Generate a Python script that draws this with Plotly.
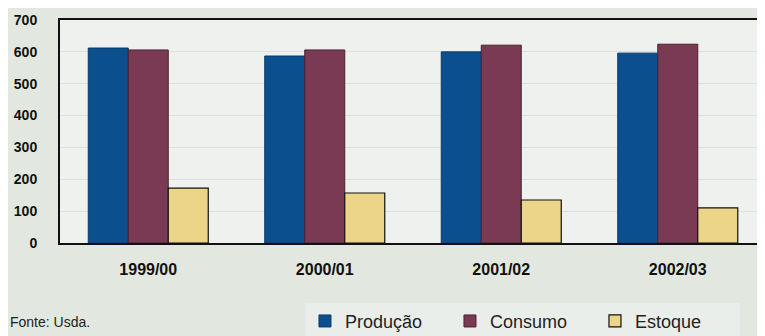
import plotly.graph_objects as go

categories = ["1999/00", "2000/01", "2001/02", "2002/03"]
producao = [612, 587, 600, 596]
consumo = [606, 606, 621, 624]
estoque = [172, 157, 135, 110]
y_ticks = [0, 100, 200, 300, 400, 500, 600, 700]

fig = go.Figure()
fig.add_bar(x=categories, y=producao, name="Produção",
            marker=dict(color="#0b4f8e", line=dict(color="#0b3a66", width=1)))
fig.add_bar(x=categories, y=consumo, name="Consumo",
            marker=dict(color="#7a3a54", line=dict(color="#4a2030", width=1)))
fig.add_bar(x=categories, y=estoque, name="Estoque",
            marker=dict(color="#ecd488", line=dict(color="#111111", width=1.2)))

fig.update_layout(
    width=765, height=336,
    margin=dict(l=52, r=7, t=12, b=101, autoexpand=False),
    paper_bgcolor="#e2e8e0",
    plot_bgcolor="#eef1ed",
    barmode="group",
    bargap=0.32,
    bargroupgap=0,
    font=dict(family="Arial, Liberation Sans, sans-serif", color="#111111"),
    showlegend=True,
    legend=dict(orientation="h", x=0.347, xanchor="left", y=-0.268, yanchor="top",
                font=dict(size=18, color="#222222"), bgcolor="#eaeeea",
                entrywidth=100, itemwidth=30, traceorder="normal",
                tracegroupgap=0),
)
fig.update_xaxes(showline=True, linecolor="#111111", linewidth=2, mirror=True,
                 ticks="", tickfont=dict(size=16, weight="bold"),
                 ticklabelstandoff=11)
fig.update_yaxes(range=[0, 700], tickvals=y_ticks, showline=True, linecolor="#111111",
                 linewidth=2, gridcolor="#dde1dd", gridwidth=1, zeroline=False,
                 tickfont=dict(size=14, weight="bold"),
                 ticklabelstandoff=18)
fig.add_annotation(text="Fonte: Usda.", xref="paper", yref="paper", x=-0.0737, y=-0.355,
                   xanchor="left", yanchor="middle", showarrow=False,
                   font=dict(size=14, color="#222222"))
fig.write_html("out.html")
